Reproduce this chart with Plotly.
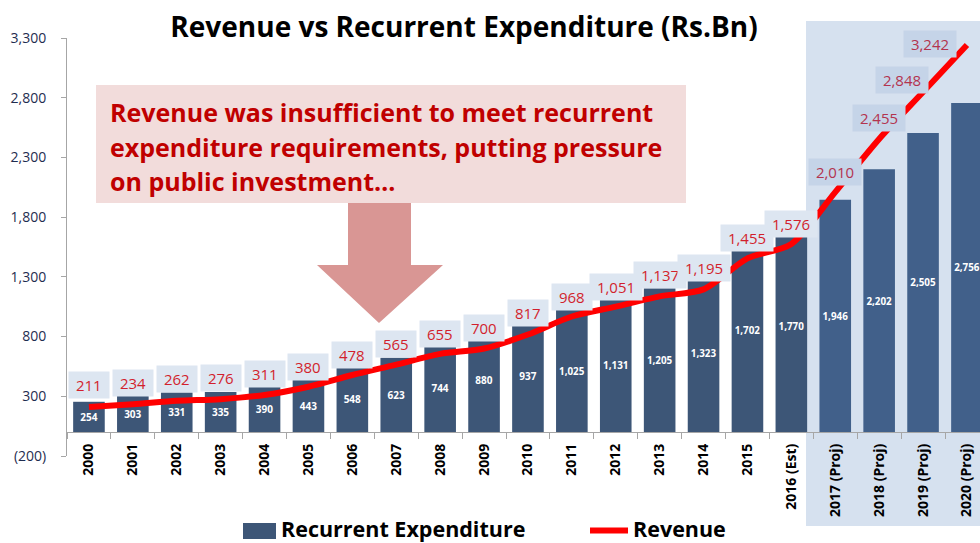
import plotly.graph_objects as go

# ---------------- data ----------------
categories = ["2000", "2001", "2002", "2003", "2004", "2005", "2006", "2007", "2008",
              "2009", "2010", "2011", "2012", "2013", "2014", "2015", "2016 (Est)",
              "2017 (Proj)", "2018 (Proj)", "2019 (Proj)", "2020 (Proj)"]
recurrent_expenditure = [254, 303, 331, 335, 390, 443, 548, 623, 744, 880, 937, 1025,
                         1131, 1205, 1323, 1702, 1770, 1946, 2202, 2505, 2756]
revenue = [211, 234, 262, 276, 311, 380, 478, 565, 655, 700, 817, 968, 1051, 1137,
           1195, 1455, 1576, 2010, 2455, 2848, 3242]
y_tick_values = [-200, 300, 800, 1300, 1800, 2300, 2800, 3300]
y_tick_labels = ["(200)", "300", "800", "1,300", "1,800", "2,300", "2,800", "3,300"]
n_actual = 17  # 2000 .. 2016 (Est); the rest are projections

# ---------------- styling ----------------
FONT = "'Open Sans', 'Noto Sans', sans-serif"
W, H = 980, 543
ML, MR, MT, MB = 67, 0, 38, 87
PW, PH = W - ML - MR, H - MT - MB
Y_MIN, Y_MAX = -200, 3300


def px(xp):
    return (xp - ML) / PW


def py(yp):
    return (H - MB - yp) / PH


n_proj = len(categories) - n_actual
bar_colors = ["#3d5677"] * n_actual + ["#41608a"] * n_proj
label_bg = ["#dde6f1"] * n_actual + ["#c5d4e8"] * n_proj
label_fg = ["#d21f2d"] * n_actual + ["#b3334f"] * n_proj
label_yshift = [22, 21, 22, 21, 21, 20, 20, 21, 20, 21, 22, 20, 20, 21, 21, 20, 20, 20, 21, 12, 1]
label_xshift = [0] * 19 + [-21, -37]

fig = go.Figure()

fig.add_trace(go.Bar(
    x=categories, y=recurrent_expenditure, name="Recurrent Expenditure",
    marker=dict(color=bar_colors, line=dict(width=0)), width=0.72,
    text=[f"{v:,}" for v in recurrent_expenditure], textposition="inside",
    insidetextanchor="middle", textangle=0,
    insidetextfont=dict(family=FONT, size=10, color="white", weight="bold"),
    showlegend=False,
))

fig.add_trace(go.Scatter(
    x=categories, y=revenue, name="Revenue", mode="lines",
    line=dict(color="#ff0000", width=6, shape="spline", smoothing=0.8),
    showlegend=False,
))

annotations = []
for i, v in enumerate(revenue):
    annotations.append(dict(
        x=i, y=v, xref="x", yref="y", text=f"\u00a0{v:,}\u00a0", showarrow=False,
        yshift=label_yshift[i], xshift=label_xshift[i],
        bgcolor=label_bg[i], borderpad=3,
        font=dict(family=FONT, size=15, color=label_fg[i]),
    ))

# callout text
callout_lines = ["Revenue was insufficient to meet recurrent",
                 "expenditure requirements, putting pressure",
                 "on public investment…"]
for line, yc in zip(callout_lines, [112, 147, 181]):
    annotations.append(dict(
        x=px(108), y=py(yc), xref="paper", yref="paper", text=line, showarrow=False,
        xanchor="left", yanchor="middle", align="left",
        font=dict(family=FONT, size=25, color="#c00000", weight="bold"),
    ))

# legend (drawn by hand to match the large swatches)
annotations.append(dict(x=px(279), y=py(528), xref="paper", yref="paper",
                        text="Recurrent Expenditure", showarrow=False,
                        xanchor="left", yanchor="middle",
                        font=dict(family=FONT, size=21.5, color="black", weight="bold")))
annotations.append(dict(x=px(631), y=py(528), xref="paper", yref="paper",
                        text="Revenue", showarrow=False,
                        xanchor="left", yanchor="middle",
                        font=dict(family=FONT, size=21.5, color="black", weight="bold")))

arrow_pts = [(348, 203), (411, 203), (411, 265), (443, 265), (379, 323), (317, 265), (348, 265)]
arrow_path = "M " + " L ".join(f"{px(a):.5f},{py(b):.5f}" for a, b in arrow_pts) + " Z"

shapes = [
    # projection shading
    dict(type="rect", xref="paper", yref="paper", x0=px(806), x1=1.0, y0=py(526), y1=py(21),
         fillcolor="#d6e1ef", line=dict(width=0), layer="below"),
    # callout box
    dict(type="rect", xref="paper", yref="paper", x0=px(96), x1=px(686), y0=py(203), y1=py(85),
         fillcolor="#f2dcdb", line=dict(width=0), layer="above"),
    # arrow
    dict(type="path", xref="paper", yref="paper", path=arrow_path,
         fillcolor="#d99694", line=dict(width=0), layer="above"),
    # legend swatches
    dict(type="rect", xref="paper", yref="paper", x0=px(243), x1=px(276), y0=py(539), y1=py(523),
         fillcolor="#3d5677", line=dict(width=0)),
    dict(type="line", xref="paper", yref="paper", x0=px(590), x1=px(628), y0=py(530.5), y1=py(530.5),
         line=dict(color="#ff0000", width=6)),
]

fig.update_layout(
    width=W, height=H,
    margin=dict(l=ML, r=MR, t=MT, b=MB, pad=0),
    paper_bgcolor="white", plot_bgcolor="rgba(0,0,0,0)",
    title=dict(text="Revenue vs Recurrent Expenditure (Rs.Bn)", xref="container", x=464 / W,
               xanchor="center", yref="container", y=1 - 27 / H, yanchor="middle",
               font=dict(family=FONT, size=28, color="black", weight="bold")),
    font=dict(family=FONT),
    showlegend=False,
    annotations=annotations,
    shapes=shapes,
    xaxis=dict(type="category", range=[-0.5, -0.5 + PW / 43.9], anchor="free",
               position=(0 - Y_MIN) / (Y_MAX - Y_MIN),
               showline=True, linecolor="#a6a6a6", linewidth=1,
               ticks="outside", ticklen=6, tickcolor="#a6a6a6", tickson="boundaries",
               tickangle=-90, ticklabelstandoff=5,
               tickfont=dict(family=FONT, size=14, color="black", weight="bold"),
               showgrid=False, zeroline=False),
    yaxis=dict(range=[Y_MIN, Y_MAX], tickvals=y_tick_values, ticktext=y_tick_labels,
               showline=True, linecolor="#a6a6a6", linewidth=1,
               ticks="outside", ticklen=5, tickcolor="#a6a6a6", ticklabelstandoff=12,
               tickfont=dict(family=FONT, size=14, color="#1f2d50"),
               showgrid=False, zeroline=False),
)

fig.write_html("out.html", config={"displayModeBar": False},
               post_script="document.body.style.margin='0';document.body.style.overflow='hidden';")
